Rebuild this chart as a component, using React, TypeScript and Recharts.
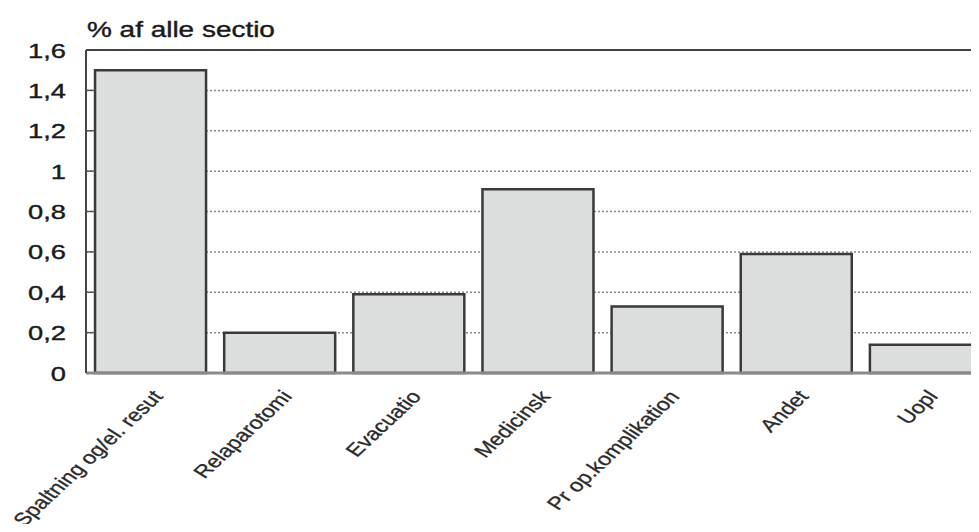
import React from "react";
import { BarChart, Bar, XAxis, YAxis, CartesianGrid, ReferenceLine } from "recharts";

const categories = [
  "Spaltning og/el. resut",
  "Relaparotomi",
  "Evacuatio",
  "Medicinsk",
  "Pr op.komplikation",
  "Andet",
  "Uopl",
];
const values = [1.5, 0.2, 0.39, 0.91, 0.33, 0.59, 0.14];
const yTicks = [0, 0.2, 0.4, 0.6, 0.8, 1, 1.2, 1.4, 1.6];
const yTitle = "% af alle sectio";

const data = categories.map((c, i) => ({ name: c, value: values[i] }));

const FONT = "'Liberation Sans', Arial, sans-serif";
const SX = 1.3;

const fmt = (v: number) => String(v).replace(".", ",");

const YTick = (props: any) => {
  const { x, y, payload } = props;
  const v = payload.value;
  return (
    <g>
      {v > 0 && v < 1.6 ? (
        <line x1={x} x2={x + 9} y1={y} y2={y} stroke="#555" strokeWidth={1.5} />
      ) : null}
      <g transform={`translate(${x - 20},${y})`}>
        <text
          transform={`scale(${SX},1)`}
          textAnchor="end"
          dy="0.36em"
          fontFamily={FONT}
          fontSize={21}
          fill="#1a1a1a"
          stroke="#1a1a1a"
          strokeWidth={0.4}
        >
          {fmt(v)}
        </text>
      </g>
    </g>
  );
};

const XTick = (props: any) => {
  const { x, y, payload } = props;
  return (
    <g transform={`translate(${x + 7},${y + 20})`}>
      <text
        transform={`scale(${SX},1) rotate(-50.5)`}
        textAnchor="end"
        dy="0.35em"
        fontFamily={FONT}
        fontSize={18}
        fill="#2a2a2a"
        stroke="#2a2a2a"
        strokeWidth={0.3}
      >
        {payload.value}
      </text>
    </g>
  );
};

const Title = (props: any) => {
  const vb = props.viewBox || {};
  const x = vb.x + vb.width;
  const y = vb.y;
  return (
    <g transform={`translate(${x + 1},${y - 13})`}>
      <text
        transform={`scale(${SX},1)`}
        fontFamily={FONT}
        fontSize={21.5}
        fill="#1a1a1a"
        stroke="#1a1a1a"
        strokeWidth={0.4}
      >
        {yTitle}
      </text>
    </g>
  );
};

export default function App() {
  return (
    <div style={{ width: 979, height: 532, overflow: "hidden", margin: "-8px 0 -8px -8px" }}>
      <BarChart
        width={998}
        height={532}
        data={data}
        margin={{ top: 50, right: 8, bottom: 0, left: 8 }}
        barCategoryGap="7%"
      >
        <CartesianGrid
          vertical={false}
          stroke="#8a8a8a"
          strokeDasharray="2 2"
          strokeWidth={1.5}
        />
        <ReferenceLine y={1.6} stroke="#444" strokeWidth={2} />
        <XAxis
          dataKey="name"
          interval={0}
          height={159}
          tickLine={false}
          tickSize={0}
          tickMargin={0}
          tick={<XTick />}
          axisLine={{ stroke: "#8a8a8a", strokeWidth: 3 }}
        />
        <YAxis
          width={78}
          domain={[0, 1.6]}
          ticks={yTicks}
          interval={0}
          tickLine={false}
          tickSize={0}
          tickMargin={0}
          tick={<YTick />}
          axisLine={{ stroke: "#444", strokeWidth: 2 }}
          label={{ content: <Title /> }}
        />
        <Bar
          dataKey="value"
          fill="#dcdddd"
          stroke="#3a3a3a"
          strokeWidth={2.5}
          isAnimationActive={false}
        />
      </BarChart>
    </div>
  );
}
